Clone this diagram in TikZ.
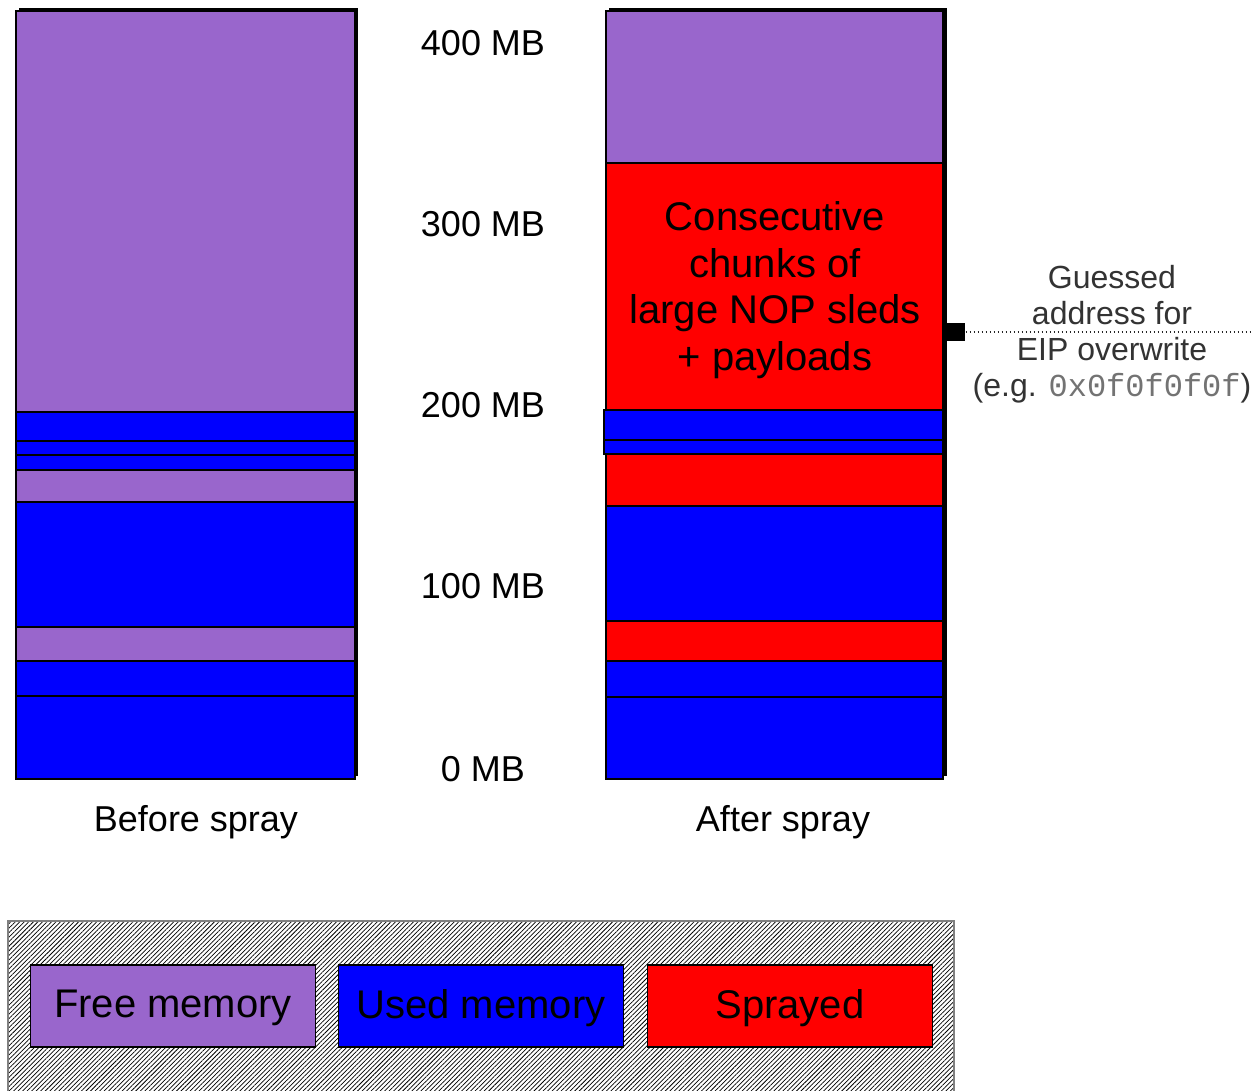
\documentclass[tikz,border=0pt]{standalone}
\usepackage{fontspec}
\setmainfont{Liberation Sans}
\newfontfamily\codefont{Liberation Mono}
\usetikzlibrary{patterns.meta}
\definecolor{freecol}{RGB}{153,102,204}
\definecolor{usedcol}{RGB}{0,0,255}
\definecolor{spraycol}{RGB}{255,0,0}
\tikzset{
  seg/.style={draw=black,line width=0.9pt},
  free/.style={seg,fill=freecol},
  used/.style={seg,fill=usedcol},
  spray/.style={seg,fill=spraycol},
  shadowbox/.style={fill=black},
  mblabel/.style={font=\fontsize{27}{32}\selectfont,anchor=center},
  collabel/.style={font=\fontsize{27}{32}\selectfont,anchor=center},
  legbox/.style={draw=black,line width=0.9pt,minimum width=214pt,minimum height=61.5pt,inner sep=0pt},
  legtext/.style={font=\fontsize{30}{36}\selectfont,inner sep=0pt},
}
\begin{document}
\begin{tikzpicture}[x=0.75pt,y=-0.75pt]
\useasboundingbox (0,0) rectangle (1259,1091);

% ---- memory before the spray ----
\fill[shadowbox] (19,8) rectangle (358,776);
\draw[free] (16,11)  rectangle (355,412);
\draw[used] (16,412) rectangle (355,441);
\draw[used] (16,441) rectangle (355,455);
\draw[used] (16,455) rectangle (355,470);
\draw[free] (16,470) rectangle (355,502);
\draw[used] (16,502) rectangle (355,627);
\draw[free] (16,627) rectangle (355,661);
\draw[used] (16,661) rectangle (355,696);
\draw[used] (16,696) rectangle (355,779);

% ---- memory after the spray ----
\fill[shadowbox] (609,8) rectangle (947,776);
\draw[free]  (606,11)  rectangle (943,163);
\draw[spray] (606,163) rectangle (943,410);
\draw[used]  (604,410) rectangle (943,440);
\draw[used]  (604,440) rectangle (943,454);
\draw[spray] (606,454) rectangle (943,506);
\draw[used]  (606,506) rectangle (943,621);
\draw[spray] (606,621) rectangle (943,661);
\draw[used]  (606,661) rectangle (943,697);
\draw[used]  (606,697) rectangle (943,779);

\node[align=center,font=\fontsize{30}{35}\selectfont] (sprayed) at (775,290)
  {Consecutive\\chunks of\\large NOP sleds\\+ payloads};

% ---- address scale ----
\node[mblabel] (m400) at (483,43)  {400 MB};
\node[mblabel] (m300) at (483,224) {300 MB};
\node[mblabel] (m200) at (483,405) {200 MB};
\node[mblabel] (m100) at (483,586) {100 MB};
\node[mblabel] (m0)   at (483,769) {0 MB};

% ---- column captions ----
\node[collabel] (before) at (196,822) {Before spray};
\node[collabel] (after)  at (783,822) {After spray};

% ---- guessed EIP target ----
\node[fill=black,minimum width=14pt,minimum height=14pt,inner sep=0pt] (mark) at (956,332) {};
\coordinate (dotend) at (1251,332);
\draw[dotted,line width=1pt,black!85] (mark.east) -- (dotend);
\node[align=center,text=black!80,font=\fontsize{24}{27}\selectfont] (guess) at (1112,334)
  {Guessed\\address for\\EIP overwrite\\(e.g. {\codefont\color{black!55}0x0f0f0f0f})};

% ---- legend ----
\path[draw=black!50,line width=0.8pt,pattern={Lines[angle=45,distance=2.4pt,line width=0.55pt]}]
  (8,921) rectangle (954,1092);
\node[legbox,fill=freecol]  (lfree)  at (173,1006) {};
\node[legbox,fill=usedcol]  (lused)  at (481,1006) {};
\node[legbox,fill=spraycol] (lspray) at (790,1006) {};
\node[legtext] (tfree)  at (173,1008) {Free memory};
\node[legtext] (tused)  at (481,1008) {Used memory};
\node[legtext] (tspray) at (790,1008) {Sprayed};
\end{tikzpicture}
\end{document}
